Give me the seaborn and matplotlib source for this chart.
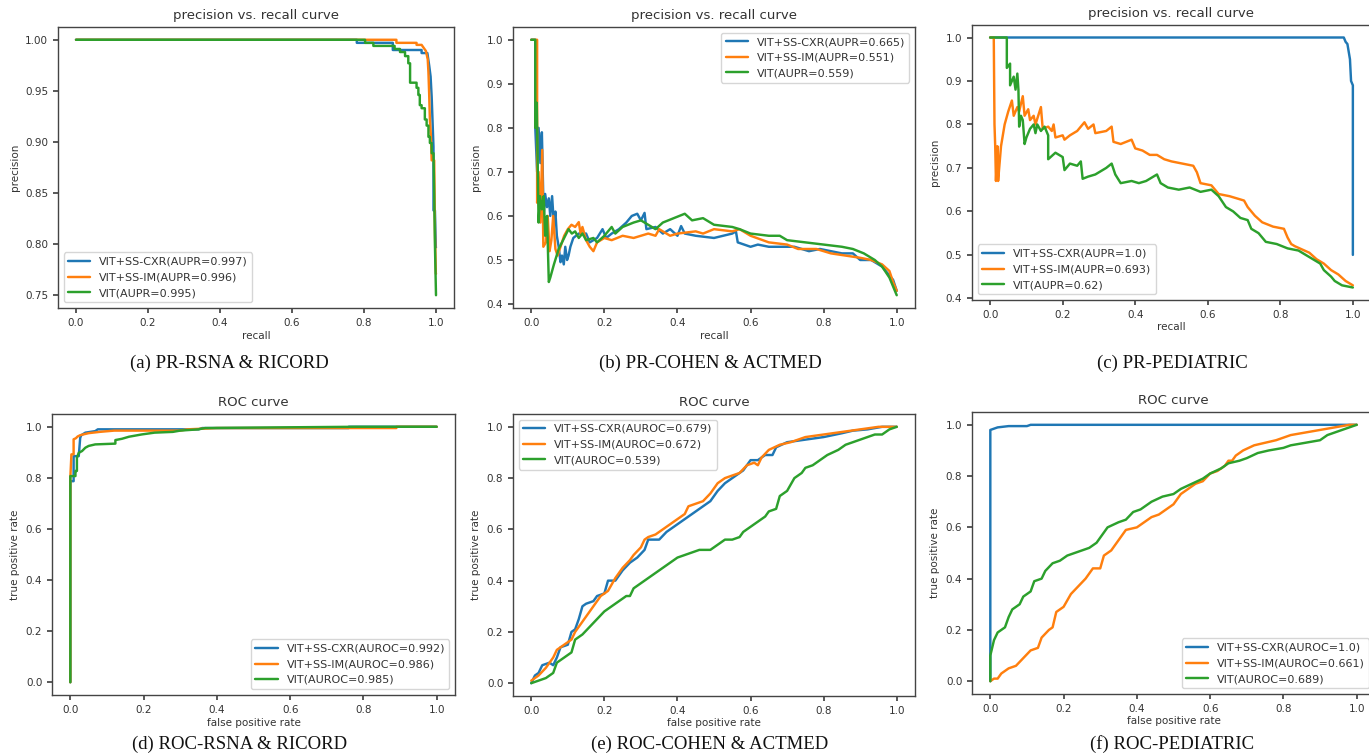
import matplotlib
matplotlib.use("Agg")
import matplotlib.pyplot as plt
import seaborn as sns
import pandas as pd

# ---------------- data ----------------
series_names = ["VIT+SS-CXR", "VIT+SS-IM", "VIT"]

# (a) PR-RSNA & RICORD
a_cxr_recall = [0.0, 0.78, 0.78, 0.88, 0.88, 0.96, 0.96, 0.976, 0.981, 0.985, 0.988, 0.993, 0.993, 0.997, 0.9995, 1.0]
a_cxr_precision = [1.0, 1.0, 0.997, 0.997, 0.990, 0.990, 0.987, 0.987, 0.975, 0.964, 0.944, 0.895, 0.833, 0.833, 0.797, 0.797]
a_im_recall = [0.0, 0.89, 0.89, 0.946, 0.946, 0.96, 0.972, 0.977, 0.979, 0.981, 0.983, 0.986, 0.988, 0.995, 0.997, 0.9995, 1.0]
a_im_precision = [1.0, 1.0, 0.997, 0.997, 0.995, 0.995, 0.989, 0.981, 0.968, 0.947, 0.922, 0.905, 0.882, 0.882, 0.814, 0.771, 0.771]
a_vit_recall = [0.0, 0.803, 0.803, 0.826, 0.826, 0.885, 0.885, 0.900, 0.900, 0.914, 0.914, 0.923, 0.923, 0.928, 0.928,
                0.946, 0.946, 0.951, 0.951, 0.955, 0.955, 0.960, 0.960, 0.969, 0.969, 0.974, 0.974, 0.979, 0.979,
                0.983, 0.983, 0.988, 0.988, 0.993, 0.995, 0.997, 1.0]
a_vit_precision = [1.0, 1.0, 0.997, 0.997, 0.994, 0.994, 0.991, 0.991, 0.988, 0.988, 0.984, 0.984, 0.977, 0.977, 0.958,
                   0.958, 0.953, 0.953, 0.946, 0.946, 0.936, 0.936, 0.933, 0.933, 0.922, 0.922, 0.916, 0.916, 0.905,
                   0.905, 0.899, 0.899, 0.889, 0.889, 0.85, 0.80, 0.75]
a_labels = ["VIT+SS-CXR(AUPR=0.997)", "VIT+SS-IM(AUPR=0.996)", "VIT(AUPR=0.995)"]

# (b) PR-COHEN & ACTMED
b_cxr_recall = [0.0, 0.011, 0.011, 0.016, 0.020, 0.025, 0.029, 0.034, 0.038, 0.043, 0.048, 0.052, 0.057, 0.062, 0.066,
                0.070, 0.075, 0.080, 0.084, 0.089, 0.093, 0.098, 0.102, 0.107, 0.115, 0.13, 0.15, 0.16, 0.18, 0.195,
                0.205, 0.22, 0.24, 0.26, 0.275, 0.29, 0.30, 0.31, 0.315, 0.34, 0.36, 0.38, 0.40, 0.41, 0.42, 0.45, 0.50,
                0.55, 0.56, 0.565, 0.60, 0.62, 0.65, 0.72, 0.76, 0.79, 0.82, 0.85, 0.88, 0.90, 0.93, 0.96, 0.975, 0.99, 1.0]
b_cxr_precision = [1.0, 1.0, 0.80, 0.70, 0.80, 0.72, 0.79, 0.60, 0.65, 0.62, 0.64, 0.60, 0.645, 0.58, 0.61, 0.555, 0.53,
                   0.495, 0.51, 0.49, 0.53, 0.50, 0.51, 0.53, 0.55, 0.56, 0.56, 0.54, 0.55, 0.57, 0.55, 0.56, 0.57, 0.585,
                   0.60, 0.605, 0.59, 0.607, 0.57, 0.575, 0.56, 0.57, 0.555, 0.577, 0.56, 0.555, 0.55, 0.56, 0.565, 0.54,
                   0.53, 0.535, 0.53, 0.53, 0.52, 0.525, 0.52, 0.515, 0.515, 0.50, 0.50, 0.485, 0.47, 0.455, 0.43]
b_im_recall = [0.0, 0.016, 0.016, 0.020, 0.025, 0.030, 0.033, 0.040, 0.045, 0.050, 0.055, 0.060, 0.066, 0.072, 0.080,
               0.090, 0.100, 0.110, 0.120, 0.130, 0.135, 0.140, 0.150, 0.160, 0.170, 0.180, 0.200, 0.220, 0.250, 0.280,
               0.320, 0.340, 0.350, 0.380, 0.400, 0.450, 0.470, 0.500, 0.550, 0.570, 0.600, 0.650, 0.700, 0.730, 0.780,
               0.820, 0.860, 0.900, 0.930, 0.960, 0.980, 0.990, 1.0]
b_im_precision = [1.0, 1.0, 0.63, 0.70, 0.585, 0.75, 0.53, 0.54, 0.60, 0.52, 0.545, 0.60, 0.525, 0.51, 0.53, 0.555, 0.57,
                  0.58, 0.575, 0.586, 0.56, 0.575, 0.545, 0.53, 0.52, 0.54, 0.55, 0.545, 0.555, 0.55, 0.56, 0.555, 0.57,
                  0.555, 0.56, 0.565, 0.56, 0.57, 0.565, 0.57, 0.555, 0.54, 0.535, 0.525, 0.525, 0.515, 0.51, 0.505,
                  0.50, 0.49, 0.475, 0.45, 0.43]
b_vit_recall = [0.0, 0.011, 0.011, 0.015, 0.020, 0.024, 0.029, 0.034, 0.038, 0.043, 0.048, 0.052, 0.062, 0.075, 0.084,
                0.093, 0.102, 0.111, 0.12, 0.13, 0.14, 0.15, 0.17, 0.18, 0.20, 0.22, 0.23, 0.25, 0.28, 0.30, 0.32, 0.34,
                0.36, 0.39, 0.42, 0.44, 0.47, 0.50, 0.55, 0.57, 0.60, 0.65, 0.68, 0.70, 0.75, 0.80, 0.85, 0.88, 0.91,
                0.94, 0.96, 0.98, 0.99, 1.0]
b_vit_precision = [1.0, 1.0, 0.80, 0.857, 0.585, 0.645, 0.615, 0.645, 0.555, 0.60, 0.45, 0.46, 0.49, 0.525, 0.54, 0.555,
                   0.57, 0.56, 0.565, 0.55, 0.56, 0.545, 0.55, 0.54, 0.555, 0.575, 0.56, 0.575, 0.585, 0.59, 0.58, 0.57,
                   0.585, 0.595, 0.605, 0.59, 0.595, 0.58, 0.575, 0.57, 0.56, 0.555, 0.555, 0.545, 0.54, 0.535, 0.53,
                   0.525, 0.515, 0.50, 0.485, 0.46, 0.44, 0.42]
b_labels = ["VIT+SS-CXR(AUPR=0.665)", "VIT+SS-IM(AUPR=0.551)", "VIT(AUPR=0.559)"]

# (c) PR-PEDIATRIC
c_cxr_recall = [0.0, 0.975, 0.98, 0.985, 0.99, 0.992, 0.995, 1.0, 1.0]
c_cxr_precision = [1.0, 1.0, 0.99, 0.985, 0.96, 0.95, 0.90, 0.89, 0.50]
c_im_recall = [0.0, 0.01, 0.012, 0.014, 0.016, 0.02, 0.022, 0.025, 0.03, 0.04,
               0.05, 0.06, 0.065, 0.075, 0.08, 0.09, 0.095, 0.105, 0.11, 0.12,
               0.125, 0.14, 0.145, 0.16, 0.17, 0.175, 0.18, 0.20, 0.205, 0.22,
               0.24, 0.25, 0.26, 0.27, 0.285, 0.29, 0.32, 0.335, 0.34, 0.36,
               0.39, 0.40, 0.42, 0.44, 0.46, 0.48, 0.50, 0.53, 0.56, 0.57,
               0.58, 0.61, 0.63, 0.66, 0.70, 0.71, 0.73, 0.75, 0.78, 0.81,
               0.82, 0.83, 0.84, 0.88, 0.90, 0.92, 0.94, 0.96, 0.98, 1.0]
c_im_precision = [1.0, 1.0, 0.80, 0.75, 0.67, 0.75, 0.67, 0.70, 0.75, 0.80,
                  0.83, 0.855, 0.82, 0.84, 0.83, 0.865, 0.82, 0.835, 0.81, 0.82,
                  0.80, 0.84, 0.79, 0.795, 0.785, 0.80, 0.77, 0.775, 0.765, 0.775,
                  0.785, 0.795, 0.805, 0.79, 0.80, 0.78, 0.785, 0.795, 0.76, 0.755,
                  0.765, 0.745, 0.74, 0.73, 0.73, 0.72, 0.715, 0.71, 0.705, 0.69,
                  0.665, 0.66, 0.64, 0.635, 0.625, 0.61, 0.59, 0.575, 0.565, 0.56,
                  0.54, 0.525, 0.52, 0.505, 0.49, 0.48, 0.465, 0.455, 0.44, 0.43]
c_vit_recall = [0.0, 0.046, 0.046, 0.055, 0.055, 0.065, 0.07, 0.075, 0.078, 0.08,
                0.085, 0.09, 0.095, 0.10, 0.11, 0.12, 0.125, 0.13, 0.14, 0.15,
                0.16, 0.16, 0.18, 0.20, 0.205, 0.22, 0.24, 0.25, 0.255, 0.27,
                0.29, 0.32, 0.335, 0.345, 0.36, 0.39, 0.41, 0.43, 0.46, 0.47,
                0.49, 0.52, 0.55, 0.58, 0.61, 0.63, 0.65, 0.67, 0.69, 0.71,
                0.72, 0.74, 0.76, 0.79, 0.82, 0.85, 0.87, 0.89, 0.91, 0.92,
                0.94, 0.95, 0.97, 1.0]
c_vit_precision = [1.0, 1.0, 0.93, 0.94, 0.89, 0.91, 0.88, 0.917, 0.88, 0.795,
                   0.82, 0.81, 0.755, 0.77, 0.79, 0.80, 0.78, 0.80, 0.785, 0.795,
                   0.775, 0.72, 0.735, 0.725, 0.695, 0.71, 0.705, 0.715, 0.675, 0.68,
                   0.685, 0.70, 0.71, 0.685, 0.665, 0.67, 0.665, 0.67, 0.685, 0.665,
                   0.655, 0.65, 0.655, 0.645, 0.65, 0.635, 0.61, 0.60, 0.585, 0.58,
                   0.56, 0.55, 0.53, 0.525, 0.515, 0.51, 0.50, 0.49, 0.48, 0.465,
                   0.45, 0.44, 0.43, 0.425]
c_labels = ["VIT+SS-CXR(AUPR=1.0)", "VIT+SS-IM(AUPR=0.693)", "VIT(AUPR=0.62)"]

# (d) ROC-RSNA & RICORD
d_cxr_fpr = [0.0, 0.0, 0.009, 0.009, 0.023, 0.027, 0.030, 0.041, 0.068, 0.075, 0.20, 0.35, 0.36, 0.76, 0.76, 1.0]
d_cxr_tpr = [0.0, 0.787, 0.787, 0.885, 0.885, 0.957, 0.967, 0.977, 0.983, 0.99, 0.99, 0.99, 0.995, 0.995, 1.0, 1.0]
d_im_fpr = [0.0, 0.0, 0.003, 0.009, 0.009, 0.015, 0.020, 0.027, 0.035, 0.05, 0.08, 0.12, 0.30, 0.32, 0.40, 0.89, 0.89, 1.0]
d_im_tpr = [0.0, 0.80, 0.892, 0.892, 0.951, 0.955, 0.962, 0.967, 0.97, 0.975, 0.98, 0.985, 0.985, 0.99, 0.995, 0.995, 1.0, 1.0]
d_vit_fpr = [0.0, 0.0, 0.014, 0.014, 0.018, 0.018, 0.023, 0.032, 0.041, 0.05, 0.068, 0.123, 0.123, 0.141, 0.16, 0.195,
             0.23, 0.28, 0.30, 0.35, 0.368, 0.6, 0.78, 1.0]
d_vit_tpr = [0.0, 0.807, 0.807, 0.827, 0.827, 0.879, 0.898, 0.905, 0.918, 0.925, 0.931, 0.934, 0.948, 0.953, 0.961, 0.97,
             0.977, 0.98, 0.985, 0.99, 0.995, 0.998, 1.0, 1.0]
d_labels = ["VIT+SS-CXR(AUROC=0.992)", "VIT+SS-IM(AUROC=0.986)", "VIT(AUROC=0.985)"]

# (e) ROC-COHEN & ACTMED
e_cxr_fpr = [0, 0.01, 0.02, 0.03, 0.05, 0.06, 0.07, 0.08, 0.10, 0.11, 0.12, 0.13, 0.14, 0.15, 0.17, 0.18, 0.20, 0.21,
             0.23, 0.25, 0.27, 0.29, 0.31, 0.32, 0.35, 0.37, 0.39, 0.42, 0.45, 0.47, 0.49, 0.51, 0.53, 0.56, 0.58, 0.60,
             0.62, 0.64, 0.66, 0.67, 0.70, 0.75, 0.80, 0.85, 0.88, 0.92, 0.96, 1.0]
e_cxr_tpr = [0, 0.03, 0.04, 0.07, 0.08, 0.07, 0.10, 0.14, 0.15, 0.20, 0.21, 0.25, 0.30, 0.31, 0.32, 0.34, 0.35, 0.40,
             0.40, 0.44, 0.47, 0.49, 0.52, 0.56, 0.56, 0.59, 0.61, 0.64, 0.67, 0.69, 0.71, 0.75, 0.78, 0.81, 0.83, 0.87,
             0.87, 0.89, 0.89, 0.92, 0.94, 0.95, 0.96, 0.975, 0.985, 0.99, 1.0, 1.0]
e_im_fpr = [0, 0.02, 0.04, 0.06, 0.07, 0.09, 0.11, 0.12, 0.14, 0.16, 0.18, 0.19, 0.21, 0.23, 0.25, 0.27, 0.28, 0.30,
            0.31, 0.32, 0.34, 0.36, 0.38, 0.40, 0.42, 0.43, 0.45, 0.47, 0.49, 0.51, 0.53, 0.55, 0.57, 0.59, 0.61, 0.62,
            0.63, 0.65, 0.68, 0.71, 0.75, 0.80, 0.85, 0.90, 0.95, 1.0]
e_im_tpr = [0.01, 0.03, 0.06, 0.10, 0.13, 0.15, 0.17, 0.20, 0.24, 0.28, 0.32, 0.34, 0.36, 0.41, 0.45, 0.48, 0.50, 0.53,
            0.56, 0.57, 0.58, 0.60, 0.62, 0.64, 0.66, 0.69, 0.70, 0.71, 0.74, 0.78, 0.80, 0.81, 0.82, 0.85, 0.86, 0.85,
            0.88, 0.91, 0.93, 0.94, 0.96, 0.97, 0.98, 0.99, 1.0, 1.0]
e_vit_fpr = [0, 0.02, 0.04, 0.06, 0.07, 0.09, 0.11, 0.12, 0.14, 0.16, 0.18, 0.20, 0.22, 0.24, 0.26, 0.27, 0.28, 0.30,
             0.32, 0.34, 0.36, 0.38, 0.40, 0.42, 0.44, 0.46, 0.49, 0.51, 0.53, 0.55, 0.57, 0.58, 0.60, 0.62, 0.64, 0.65,
             0.67, 0.68, 0.70, 0.72, 0.74, 0.75, 0.77, 0.79, 0.81, 0.84, 0.86, 0.88, 0.90, 0.92, 0.94, 0.96, 0.98, 1.0]
e_vit_tpr = [0, 0.01, 0.02, 0.04, 0.08, 0.10, 0.12, 0.17, 0.19, 0.22, 0.25, 0.28, 0.30, 0.32, 0.34, 0.34, 0.37, 0.39,
             0.41, 0.43, 0.45, 0.47, 0.49, 0.50, 0.51, 0.52, 0.52, 0.54, 0.56, 0.56, 0.57, 0.59, 0.61, 0.63, 0.65, 0.67,
             0.68, 0.73, 0.75, 0.80, 0.82, 0.84, 0.85, 0.87, 0.89, 0.91, 0.93, 0.94, 0.95, 0.96, 0.97, 0.97, 0.99, 1.0]
e_labels = ["VIT+SS-CXR(AUROC=0.679)", "VIT+SS-IM(AUROC=0.672)", "VIT(AUROC=0.539)"]

# (f) ROC-PEDIATRIC
f_cxr_fpr = [0, 0, 0.01, 0.02, 0.05, 0.10, 0.11, 1.0]
f_cxr_tpr = [0, 0.98, 0.985, 0.99, 0.995, 0.995, 1.0, 1.0]
f_im_fpr = [0, 0.01, 0.02, 0.03, 0.05, 0.07, 0.09, 0.11, 0.13, 0.14, 0.16, 0.17, 0.18, 0.20, 0.22, 0.24, 0.26, 0.28,
            0.30, 0.31, 0.33, 0.35, 0.37, 0.40, 0.42, 0.44, 0.46, 0.48, 0.50, 0.52, 0.54, 0.56, 0.58, 0.60, 0.62, 0.64,
            0.65, 0.66, 0.67, 0.69, 0.72, 0.75, 0.78, 0.82, 0.86, 0.90, 0.94, 0.98, 1.0]
f_im_tpr = [0, 0.01, 0.01, 0.03, 0.05, 0.06, 0.09, 0.12, 0.13, 0.17, 0.20, 0.21, 0.27, 0.29, 0.34, 0.37, 0.40, 0.44,
            0.44, 0.49, 0.51, 0.55, 0.59, 0.60, 0.62, 0.64, 0.65, 0.67, 0.69, 0.73, 0.75, 0.77, 0.78, 0.81, 0.82, 0.84,
            0.86, 0.86, 0.88, 0.90, 0.92, 0.93, 0.94, 0.96, 0.97, 0.98, 0.99, 1.0, 1.0]
f_vit_fpr = [0, 0, 0.01, 0.02, 0.04, 0.05, 0.06, 0.08, 0.09, 0.11, 0.12, 0.14, 0.15, 0.17, 0.19, 0.21, 0.23, 0.25,
             0.27, 0.29, 0.30, 0.32, 0.35, 0.37, 0.39, 0.41, 0.43, 0.44, 0.47, 0.50, 0.52, 0.55, 0.58, 0.60, 0.63, 0.65,
             0.68, 0.70, 0.73, 0.76, 0.80, 0.82, 0.86, 0.90, 0.92, 0.96, 1.0]
f_vit_tpr = [0, 0.10, 0.16, 0.19, 0.21, 0.25, 0.28, 0.30, 0.33, 0.35, 0.39, 0.40, 0.43, 0.46, 0.47, 0.49, 0.50, 0.51,
             0.52, 0.54, 0.56, 0.60, 0.62, 0.63, 0.66, 0.67, 0.69, 0.70, 0.72, 0.73, 0.75, 0.77, 0.79, 0.81, 0.83, 0.85,
             0.86, 0.87, 0.89, 0.90, 0.91, 0.92, 0.93, 0.94, 0.96, 0.98, 1.0]
f_labels = ["VIT+SS-CXR(AUROC=1.0)", "VIT+SS-IM(AUROC=0.661)", "VIT(AUROC=0.689)"]

captions = ["(a) PR-RSNA & RICORD", "(b) PR-COHEN & ACTMED", "(c) PR-PEDIATRIC",
            "(d) ROC-RSNA & RICORD", "(e) ROC-COHEN & ACTMED", "(f) ROC-PEDIATRIC"]

# ---------------- figure ----------------
sns.set_theme(style="ticks")
plt.rcParams.update({
    "font.family": ["DejaVu Sans"],
    "axes.edgecolor": "#444444",
    "axes.linewidth": 1.0,
    "xtick.color": "#444444",
    "ytick.color": "#444444",
    "xtick.labelcolor": "#333333",
    "ytick.labelcolor": "#333333",
    "axes.labelcolor": "#333333",
    "text.color": "#333333",
    "xtick.major.size": 3.5,
    "ytick.major.size": 3.5,
})

W, H = 1369, 753
fig = plt.figure(figsize=(W / 100, H / 100), dpi=100)
palette = ["#1f77b4", "#ff7f0e", "#2ca02c"]


def box(left, top, right, bottom):
    return [left / W, 1 - bottom / H, (right - left) / W, (bottom - top) / H]


panels = [
    dict(pos=box(58, 27, 454, 308), xs=[a_cxr_recall, a_im_recall, a_vit_recall],
         ys=[a_cxr_precision, a_im_precision, a_vit_precision], labels=a_labels, kind="pr", loc="lower left"),
    dict(pos=box(513, 27, 915, 308), xs=[b_cxr_recall, b_im_recall, b_vit_recall],
         ys=[b_cxr_precision, b_im_precision, b_vit_precision], labels=b_labels, kind="pr", loc="upper right"),
    dict(pos=box(972, 25, 1371, 300), xs=[c_cxr_recall, c_im_recall, c_vit_recall],
         ys=[c_cxr_precision, c_im_precision, c_vit_precision], labels=c_labels, kind="pr", loc="lower left"),
    dict(pos=box(52, 414, 455, 695), xs=[d_cxr_fpr, d_im_fpr, d_vit_fpr],
         ys=[d_cxr_tpr, d_im_tpr, d_vit_tpr], labels=d_labels, kind="roc", loc="lower right"),
    dict(pos=box(513, 414, 915, 696), xs=[e_cxr_fpr, e_im_fpr, e_vit_fpr],
         ys=[e_cxr_tpr, e_im_tpr, e_vit_tpr], labels=e_labels, kind="roc", loc="upper left"),
    dict(pos=box(972, 412, 1375, 694), xs=[f_cxr_fpr, f_im_fpr, f_vit_fpr],
         ys=[f_cxr_tpr, f_im_tpr, f_vit_tpr], labels=f_labels, kind="roc", loc="lower right"),
]

for p in panels:
    ax = fig.add_axes(p["pos"])
    frames = []
    for xs, ys, lab in zip(p["xs"], p["ys"], p["labels"]):
        frames.append(pd.DataFrame({"x": xs, "y": ys, "model": lab}))
    df = pd.concat(frames, ignore_index=True)
    sns.lineplot(data=df, x="x", y="y", hue="model", palette=palette, sort=False,
                 estimator=None, linewidth=1.75, ax=ax)
    ax.margins(0.05)
    if p["kind"] == "pr":
        ax.set_title("precision vs. recall curve", fontsize=9.5)
        ax.set_xlabel("recall", fontsize=7.5, labelpad=2)
        ax.set_ylabel("precision", fontsize=7.5)
    else:
        ax.set_title("ROC curve", fontsize=9.5)
        ax.set_xlabel("false positive rate", fontsize=7.5, labelpad=2)
        ax.set_ylabel("true positive rate", fontsize=7.5)
    ax.tick_params(labelsize=7.5)
    sns.move_legend(ax, p["loc"], title=None, fontsize=8, frameon=True)
    for s in ax.spines.values():
        s.set_visible(True)

col_centers_top = [229, 710, 1172]
col_centers_bottom = [240, 710, 1172]
for i, cap in enumerate(captions):
    cx = col_centers_top[i] if i < 3 else col_centers_bottom[i - 3]
    cy = 363 if i < 3 else 744
    fig.text(cx / W, 1 - cy / H, cap, ha="center", va="center", fontsize=13.5,
             family=["Liberation Serif", "DejaVu Serif"], color="#111111")

fig.savefig("out.png", dpi=100)
